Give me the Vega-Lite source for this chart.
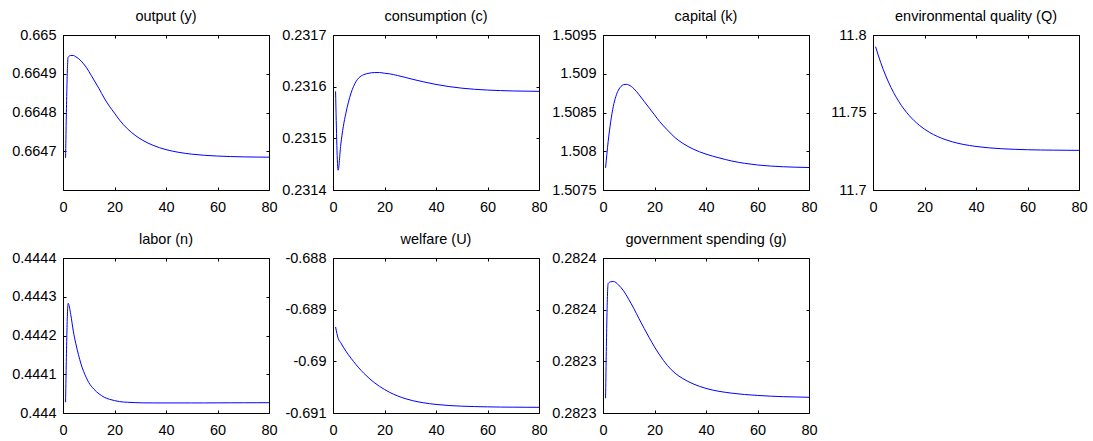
{
  "$schema": "https://vega.github.io/schema/vega-lite/v6.json",
  "background": "white",
  "padding": {"left": 6, "top": 8, "right": 5, "bottom": 2},
  "bounds": "flush",
  "columns": 4,
  "spacing": {"row": 68, "column": 64},
  "data": {"values": [
    {"t": 1, "y": 0.6646831, "c": 0.2315909, "k": 1.5077857, "Q": 11.7925, "n": 0.4440277, "U": -0.689335, "g": 0.2822643},
    {"t": 2, "y": 0.6649429, "c": 0.2314383, "k": 1.5081234, "Q": 11.78714, "n": 0.4442831, "U": -0.689555, "g": 0.2823753},
    {"t": 3, "y": 0.6649472, "c": 0.231487, "k": 1.5083831, "Q": 11.78221, "n": 0.4442545, "U": -0.68964, "g": 0.282377},
    {"t": 4, "y": 0.6649472, "c": 0.2315227, "k": 1.5085779, "Q": 11.77767, "n": 0.4442113, "U": -0.689724, "g": 0.2823773},
    {"t": 5, "y": 0.6649437, "c": 0.2315487, "k": 1.5087078, "Q": 11.7735, "n": 0.4441784, "U": -0.689802, "g": 0.2823763},
    {"t": 6, "y": 0.6649394, "c": 0.2315701, "k": 1.50879, "Q": 11.76966, "n": 0.4441506, "U": -0.689872, "g": 0.282374},
    {"t": 7, "y": 0.6649333, "c": 0.2315877, "k": 1.5088377, "Q": 11.76613, "n": 0.4441264, "U": -0.68994, "g": 0.2823714},
    {"t": 8, "y": 0.6649255, "c": 0.2316006, "k": 1.5088593, "Q": 11.76287, "n": 0.4441074, "U": -0.690005, "g": 0.2823682},
    {"t": 9, "y": 0.6649169, "c": 0.2316104, "k": 1.5088636, "Q": 11.75988, "n": 0.4440918, "U": -0.690067, "g": 0.2823643},
    {"t": 10, "y": 0.6649065, "c": 0.2316169, "k": 1.508855, "Q": 11.75714, "n": 0.4440788, "U": -0.690126, "g": 0.28236},
    {"t": 12, "y": 0.664884, "c": 0.2316234, "k": 1.5088074, "Q": 11.75227, "n": 0.4440615, "U": -0.690232, "g": 0.282351},
    {"t": 14, "y": 0.6648615, "c": 0.231626, "k": 1.5087294, "Q": 11.74817, "n": 0.4440494, "U": -0.690327, "g": 0.2823412},
    {"t": 16, "y": 0.6648372, "c": 0.2316273, "k": 1.508643, "Q": 11.74468, "n": 0.4440407, "U": -0.69041, "g": 0.2823318},
    {"t": 18, "y": 0.6648165, "c": 0.2316273, "k": 1.5085563, "Q": 11.74173, "n": 0.4440355, "U": -0.690482, "g": 0.2823227},
    {"t": 20, "y": 0.6647983, "c": 0.231626, "k": 1.50847, "Q": 11.73924, "n": 0.444032, "U": -0.690545, "g": 0.282314},
    {"t": 22, "y": 0.6647801, "c": 0.2316248, "k": 1.5083831, "Q": 11.73713, "n": 0.4440294, "U": -0.6906, "g": 0.2823062},
    {"t": 25, "y": 0.6647581, "c": 0.2316217, "k": 1.5082749, "Q": 11.73456, "n": 0.4440277, "U": -0.690668, "g": 0.282296},
    {"t": 28, "y": 0.6647412, "c": 0.231618, "k": 1.5081753, "Q": 11.73255, "n": 0.4440268, "U": -0.690721, "g": 0.2822885},
    {"t": 31, "y": 0.6647281, "c": 0.2316142, "k": 1.5081017, "Q": 11.73099, "n": 0.4440262, "U": -0.690762, "g": 0.2822833},
    {"t": 35, "y": 0.6647152, "c": 0.2316095, "k": 1.508028, "Q": 11.72943, "n": 0.444026, "U": -0.690801, "g": 0.2822782},
    {"t": 40, "y": 0.6647042, "c": 0.2316043, "k": 1.507963, "Q": 11.72809, "n": 0.444026, "U": -0.690834, "g": 0.2822738},
    {"t": 45, "y": 0.6646971, "c": 0.2316002, "k": 1.5079156, "Q": 11.7272, "n": 0.444026, "U": -0.690855, "g": 0.282271},
    {"t": 50, "y": 0.6646925, "c": 0.2315971, "k": 1.507874, "Q": 11.72662, "n": 0.444026, "U": -0.690868, "g": 0.2822692},
    {"t": 55, "y": 0.6646895, "c": 0.2315949, "k": 1.507844, "Q": 11.72624, "n": 0.444026, "U": -0.690876, "g": 0.2822679},
    {"t": 60, "y": 0.6646876, "c": 0.2315934, "k": 1.507823, "Q": 11.72598, "n": 0.4440262, "U": -0.690881, "g": 0.282267},
    {"t": 65, "y": 0.6646863, "c": 0.2315924, "k": 1.507809, "Q": 11.72581, "n": 0.4440263, "U": -0.690885, "g": 0.2822663},
    {"t": 70, "y": 0.6646855, "c": 0.2315917, "k": 1.5078, "Q": 11.72571, "n": 0.4440264, "U": -0.690887, "g": 0.2822658},
    {"t": 75, "y": 0.664685, "c": 0.2315913, "k": 1.507794, "Q": 11.72564, "n": 0.4440265, "U": -0.690889, "g": 0.2822655},
    {"t": 80, "y": 0.6646847, "c": 0.231591, "k": 1.50779, "Q": 11.72559, "n": 0.4440266, "U": -0.69089, "g": 0.2822652}
  ]},
  "concat": [
    {
      "title": {"text": "output (y)"},
      "width": 206, "height": 155,
      "resolve": {"axis": {"x": "independent", "y": "independent"}},
      "layer": [
        {"mark": {"type": "line", "color": "#0000ff", "strokeWidth": 1, "interpolate": "monotone"},
         "encoding": {
           "x": {"field": "t", "type": "quantitative", "title": null, "scale": {"domain": [0, 80], "nice": false, "zero": false}, "axis": {"orient": "bottom", "values": [0, 20, 40, 60, 80]}},
           "y": {"field": "y", "type": "quantitative", "title": null, "scale": {"domain": [0.6646, 0.665], "nice": false, "zero": false}, "axis": {"orient": "left", "values": [0.6647, 0.6648, 0.6649, 0.665], "labelExpr": "'' + datum.value"}}
         }},
        {"mark": {"type": "line", "opacity": 0},
         "encoding": {
           "x": {"field": "t", "type": "quantitative", "title": null, "axis": {"orient": "top", "values": [0, 20, 40, 60, 80], "labels": false}},
           "y": {"field": "y", "type": "quantitative", "title": null, "axis": {"orient": "right", "values": [0.6647, 0.6648, 0.6649, 0.665], "labels": false}}
         }}
      ]
    },
    {
      "title": {"text": "consumption (c)"},
      "width": 206, "height": 155,
      "resolve": {"axis": {"x": "independent", "y": "independent"}},
      "layer": [
        {"mark": {"type": "line", "color": "#0000ff", "strokeWidth": 1, "interpolate": "monotone"},
         "encoding": {
           "x": {"field": "t", "type": "quantitative", "title": null, "scale": {"domain": [0, 80], "nice": false, "zero": false}, "axis": {"orient": "bottom", "values": [0, 20, 40, 60, 80]}},
           "y": {"field": "c", "type": "quantitative", "title": null, "scale": {"domain": [0.2314, 0.2317], "nice": false, "zero": false}, "axis": {"orient": "left", "values": [0.2314, 0.2315, 0.2316, 0.2317], "labelExpr": "'' + datum.value"}}
         }},
        {"mark": {"type": "line", "opacity": 0},
         "encoding": {
           "x": {"field": "t", "type": "quantitative", "title": null, "axis": {"orient": "top", "values": [0, 20, 40, 60, 80], "labels": false}},
           "y": {"field": "c", "type": "quantitative", "title": null, "axis": {"orient": "right", "values": [0.2314, 0.2315, 0.2316, 0.2317], "labels": false}}
         }}
      ]
    },
    {
      "title": {"text": "capital (k)"},
      "width": 206, "height": 155,
      "resolve": {"axis": {"x": "independent", "y": "independent"}},
      "layer": [
        {"mark": {"type": "line", "color": "#0000ff", "strokeWidth": 1, "interpolate": "monotone"},
         "encoding": {
           "x": {"field": "t", "type": "quantitative", "title": null, "scale": {"domain": [0, 80], "nice": false, "zero": false}, "axis": {"orient": "bottom", "values": [0, 20, 40, 60, 80]}},
           "y": {"field": "k", "type": "quantitative", "title": null, "scale": {"domain": [1.5075, 1.5095], "nice": false, "zero": false}, "axis": {"orient": "left", "values": [1.5075, 1.508, 1.5085, 1.509, 1.5095], "labelExpr": "'' + datum.value"}}
         }},
        {"mark": {"type": "line", "opacity": 0},
         "encoding": {
           "x": {"field": "t", "type": "quantitative", "title": null, "axis": {"orient": "top", "values": [0, 20, 40, 60, 80], "labels": false}},
           "y": {"field": "k", "type": "quantitative", "title": null, "axis": {"orient": "right", "values": [1.5075, 1.508, 1.5085, 1.509, 1.5095], "labels": false}}
         }}
      ]
    },
    {
      "title": {"text": "environmental quality (Q)"},
      "width": 206, "height": 155,
      "resolve": {"axis": {"x": "independent", "y": "independent"}},
      "layer": [
        {"mark": {"type": "line", "color": "#0000ff", "strokeWidth": 1, "interpolate": "monotone"},
         "encoding": {
           "x": {"field": "t", "type": "quantitative", "title": null, "scale": {"domain": [0, 80], "nice": false, "zero": false}, "axis": {"orient": "bottom", "values": [0, 20, 40, 60, 80]}},
           "y": {"field": "Q", "type": "quantitative", "title": null, "scale": {"domain": [11.7, 11.8], "nice": false, "zero": false}, "axis": {"orient": "left", "values": [11.7, 11.75, 11.8], "labelExpr": "'' + datum.value"}}
         }},
        {"mark": {"type": "line", "opacity": 0},
         "encoding": {
           "x": {"field": "t", "type": "quantitative", "title": null, "axis": {"orient": "top", "values": [0, 20, 40, 60, 80], "labels": false}},
           "y": {"field": "Q", "type": "quantitative", "title": null, "axis": {"orient": "right", "values": [11.7, 11.75, 11.8], "labels": false}}
         }}
      ]
    },
    {
      "title": {"text": "labor (n)"},
      "width": 206, "height": 155,
      "resolve": {"axis": {"x": "independent", "y": "independent"}},
      "layer": [
        {"mark": {"type": "line", "color": "#0000ff", "strokeWidth": 1, "interpolate": "monotone"},
         "encoding": {
           "x": {"field": "t", "type": "quantitative", "title": null, "scale": {"domain": [0, 80], "nice": false, "zero": false}, "axis": {"orient": "bottom", "values": [0, 20, 40, 60, 80]}},
           "y": {"field": "n", "type": "quantitative", "title": null, "scale": {"domain": [0.444, 0.4444], "nice": false, "zero": false}, "axis": {"orient": "left", "values": [0.444, 0.4441, 0.4442, 0.4443, 0.4444], "labelExpr": "'' + datum.value"}}
         }},
        {"mark": {"type": "line", "opacity": 0},
         "encoding": {
           "x": {"field": "t", "type": "quantitative", "title": null, "axis": {"orient": "top", "values": [0, 20, 40, 60, 80], "labels": false}},
           "y": {"field": "n", "type": "quantitative", "title": null, "axis": {"orient": "right", "values": [0.444, 0.4441, 0.4442, 0.4443, 0.4444], "labels": false}}
         }}
      ]
    },
    {
      "title": {"text": "welfare (U)"},
      "width": 206, "height": 155,
      "resolve": {"axis": {"x": "independent", "y": "independent"}},
      "layer": [
        {"mark": {"type": "line", "color": "#0000ff", "strokeWidth": 1, "interpolate": "monotone"},
         "encoding": {
           "x": {"field": "t", "type": "quantitative", "title": null, "scale": {"domain": [0, 80], "nice": false, "zero": false}, "axis": {"orient": "bottom", "values": [0, 20, 40, 60, 80]}},
           "y": {"field": "U", "type": "quantitative", "title": null, "scale": {"domain": [-0.691, -0.688], "nice": false, "zero": false}, "axis": {"orient": "left", "values": [-0.691, -0.69, -0.689, -0.688], "labelExpr": "'' + datum.value"}}
         }},
        {"mark": {"type": "line", "opacity": 0},
         "encoding": {
           "x": {"field": "t", "type": "quantitative", "title": null, "axis": {"orient": "top", "values": [0, 20, 40, 60, 80], "labels": false}},
           "y": {"field": "U", "type": "quantitative", "title": null, "axis": {"orient": "right", "values": [-0.691, -0.69, -0.689, -0.688], "labels": false}}
         }}
      ]
    },
    {
      "title": {"text": "government spending (g)"},
      "width": 206, "height": 155,
      "resolve": {"axis": {"x": "independent", "y": "independent"}},
      "layer": [
        {"mark": {"type": "line", "color": "#0000ff", "strokeWidth": 1, "interpolate": "monotone"},
         "encoding": {
           "x": {"field": "t", "type": "quantitative", "title": null, "scale": {"domain": [0, 80], "nice": false, "zero": false}, "axis": {"orient": "bottom", "values": [0, 20, 40, 60, 80]}},
           "y": {"field": "g", "type": "quantitative", "title": null, "scale": {"domain": [0.28225, 0.2824], "nice": false, "zero": false}, "axis": {"orient": "left", "values": [0.28225, 0.2823, 0.28235, 0.2824], "labelExpr": "datum.value > 0.28232 ? '0.2824' : '0.2823'"}}
         }},
        {"mark": {"type": "line", "opacity": 0},
         "encoding": {
           "x": {"field": "t", "type": "quantitative", "title": null, "axis": {"orient": "top", "values": [0, 20, 40, 60, 80], "labels": false}},
           "y": {"field": "g", "type": "quantitative", "title": null, "axis": {"orient": "right", "values": [0.28225, 0.2823, 0.28235, 0.2824], "labels": false}}
         }}
      ]
    }
  ],
  "config": {
    "font": "Liberation Sans",
    "view": {"stroke": "#000000", "strokeWidth": 1},
    "axis": {"domain": false, "grid": false, "tickSize": -3, "tickColor": "#000000", "tickWidth": 1, "labelColor": "#000000", "labelFont": "Liberation Sans", "labelFontSize": 14.5, "labelFlush": false, "labelOverlap": false},
    "axisX": {"labelPadding": 13},
    "axisY": {"labelPadding": 10},
    "axisLeft": {"minExtent": 56, "maxExtent": 56},
    "axisRight": {"minExtent": 0, "maxExtent": 0},
    "axisTop": {"minExtent": 0, "maxExtent": 0},
    "title": {"font": "Liberation Sans", "fontSize": 14.5, "fontWeight": "normal", "color": "#000000", "frame": "group", "anchor": "middle", "offset": 3, "baseline": "alphabetic"}
  }
}
